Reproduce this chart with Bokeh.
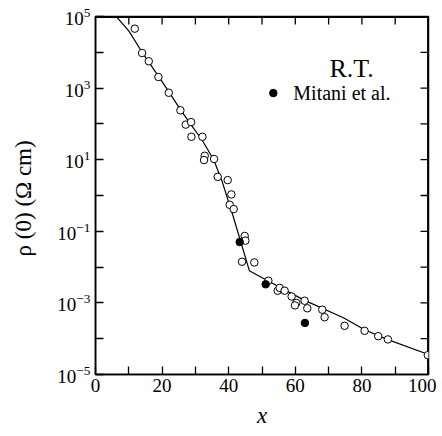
import numpy as np
from bokeh.plotting import figure
from bokeh.models import FixedTicker, Range1d, BoxAnnotation
from bokeh.core.properties import value
from bokeh.embed import file_html
from bokeh.resources import INLINE

# fitted line (x, log10 rho)
line_x = [5, 10, 14, 19, 22, 25.5, 28.5, 32, 35.5, 38, 41.4, 46.2, 51.7, 62.8, 74.6, 80.8, 87.6, 100]
line_logy = [5.13, 4.6, 4.0, 3.32, 2.9, 2.4, 2.0, 1.55, 1.0, 0.4, -0.6, -2.10, -2.38, -2.93, -3.42, -3.75, -4.02, -4.44]

# open circles: present data (x, log10 rho)
open_x = [11.8, 14.0, 16.0, 18.9, 22.0, 25.5, 27.1, 28.7, 28.8, 32.1, 32.8, 32.6, 35.6, 36.7, 39.7,
          40.8, 40.3, 41.5, 44.8, 45.0, 44.0, 47.7, 51.9, 54.7, 55.3, 56.8, 58.9, 60.3, 59.9, 62.8,
          63.6, 68.1, 68.8, 74.8, 80.8, 84.9, 87.8, 99.8]
open_logy = [4.66, 3.98, 3.75, 3.31, 2.87, 2.38, 1.98, 2.05, 1.64, 1.64, 1.11, 0.99, 1.02, 0.52, 0.43,
             0.03, -0.26, -0.38, -1.13, -1.26, -1.85, -1.87, -2.38, -2.66, -2.58, -2.66, -2.82, -3.00, -3.07, -2.94,
             -3.15, -3.19, -3.40, -3.64, -3.78, -3.93, -4.02, -4.46]

# filled circles: Mitani et al.
mit_x = [43.3, 51.1, 62.9]
mit_logy = [-1.30, -2.48, -3.56]

x_ticks = [0, 20, 40, 60, 80, 100]
x_minor = [10, 30, 50, 70, 90]
y_ticks = [1e-5, 1e-3, 1e-1, 1e1, 1e3, 1e5]
y_minor = [1e-4, 1e-2, 1e0, 1e2, 1e4]
x_lo, x_hi = 0, 100
y_lo, y_hi = 1e-5, 1e5

line_y = [10 ** v for v in line_logy]
open_y = [10 ** v for v in open_logy]
mit_y = [10 ** v for v in mit_logy]

FONT = "Liberation Serif"

p = figure(width=436, height=430, output_backend="svg", toolbar_location=None,
           y_axis_type="log", x_range=Range1d(x_lo, x_hi), y_range=Range1d(y_lo, y_hi),
           min_border_left=95, min_border_right=8, min_border_top=16, min_border_bottom=55)
p.outline_line_color = "black"
p.outline_line_width = 1.5
p.grid.visible = False

# frame border (top / right) and inward ticks
p.add_layout(BoxAnnotation(fill_alpha=0, line_color="black", line_width=1.5))
lg_hi = np.log10(y_hi)
y_edge = 10 ** (lg_hi - 0.02)
x_edge = x_hi - 0.2
p.line([x_lo, x_hi], [y_edge, y_edge], line_color="black", line_width=1.5)
p.line([x_edge, x_edge], [y_lo, y_hi], line_color="black", line_width=1.5)
top_tx = [t for t in x_ticks + x_minor if x_lo < t < x_hi]
p.segment(x0=top_tx, y0=[y_edge] * len(top_tx), x1=top_tx,
          y1=[10 ** (lg_hi - 0.22)] * len(top_tx), line_color="black", line_width=1.3)
right_ty = [t for t in y_ticks + y_minor if y_lo < t < y_hi]
p.segment(x0=[x_hi - 2.4] * len(right_ty), y0=right_ty, x1=[x_edge] * len(right_ty),
          y1=right_ty, line_color="black", line_width=1.3)

p.line(line_x, line_y, line_color="black", line_width=1.2)
p.scatter(open_x, open_y, marker="circle", size=7.5, fill_color="white", line_color="black", line_width=1)
p.scatter(mit_x, mit_y, marker="circle", size=7.5, fill_color="black", line_color="black")


def style(ax):
    ax.axis_line_color = "black"
    ax.axis_line_width = 1.5
    ax.major_tick_in = 8
    ax.major_tick_out = 0
    ax.minor_tick_in = 8
    ax.minor_tick_out = 0
    ax.major_tick_line_color = "black"
    ax.minor_tick_line_color = "black"
    ax.major_tick_line_width = 1.3
    ax.minor_tick_line_width = 1.3
    ax.major_label_text_font = FONT
    ax.major_label_text_font_size = "19px"
    ax.major_label_text_color = "black"


xa = p.xaxis[0]
xa.ticker = FixedTicker(ticks=x_ticks, minor_ticks=x_minor)
style(xa)
xa.major_label_standoff = 4
xa.axis_label = "x"
xa.axis_label_text_font = FONT
xa.axis_label_text_font_style = "italic"
xa.axis_label_text_font_size = "23px"
xa.axis_label_text_color = "black"
xa.axis_label_standoff = 8

ya = p.yaxis[0]
ya.ticker = FixedTicker(ticks=y_ticks, minor_ticks=y_minor)
style(ya)
ya.major_label_standoff = 5
ya.axis_label = "ρ (0)  (Ω cm)"
ya.axis_label_text_font = FONT
ya.axis_label_text_font_style = "normal"
ya.axis_label_text_font_size = "23px"
ya.axis_label_text_color = "black"
ya.axis_label_standoff = 18

# legend block as text glyphs
p.text(x=[76.9], y=[10 ** 3.56], text=["R.T."], text_font=value(FONT), text_font_size="26px",
       text_align="center", text_baseline="alphabetic", text_color="black")
p.scatter([53.4], [10 ** 2.86], marker="circle", size=7.5, fill_color="black", line_color="black")
p.text(x=[59.4], y=[10 ** 2.86], text=["Mitani et al."], text_font=value(FONT), text_font_size="20px",
       text_align="left", text_baseline="middle", text_color="black")

open("out.html", "w").write(file_html(p, INLINE))
